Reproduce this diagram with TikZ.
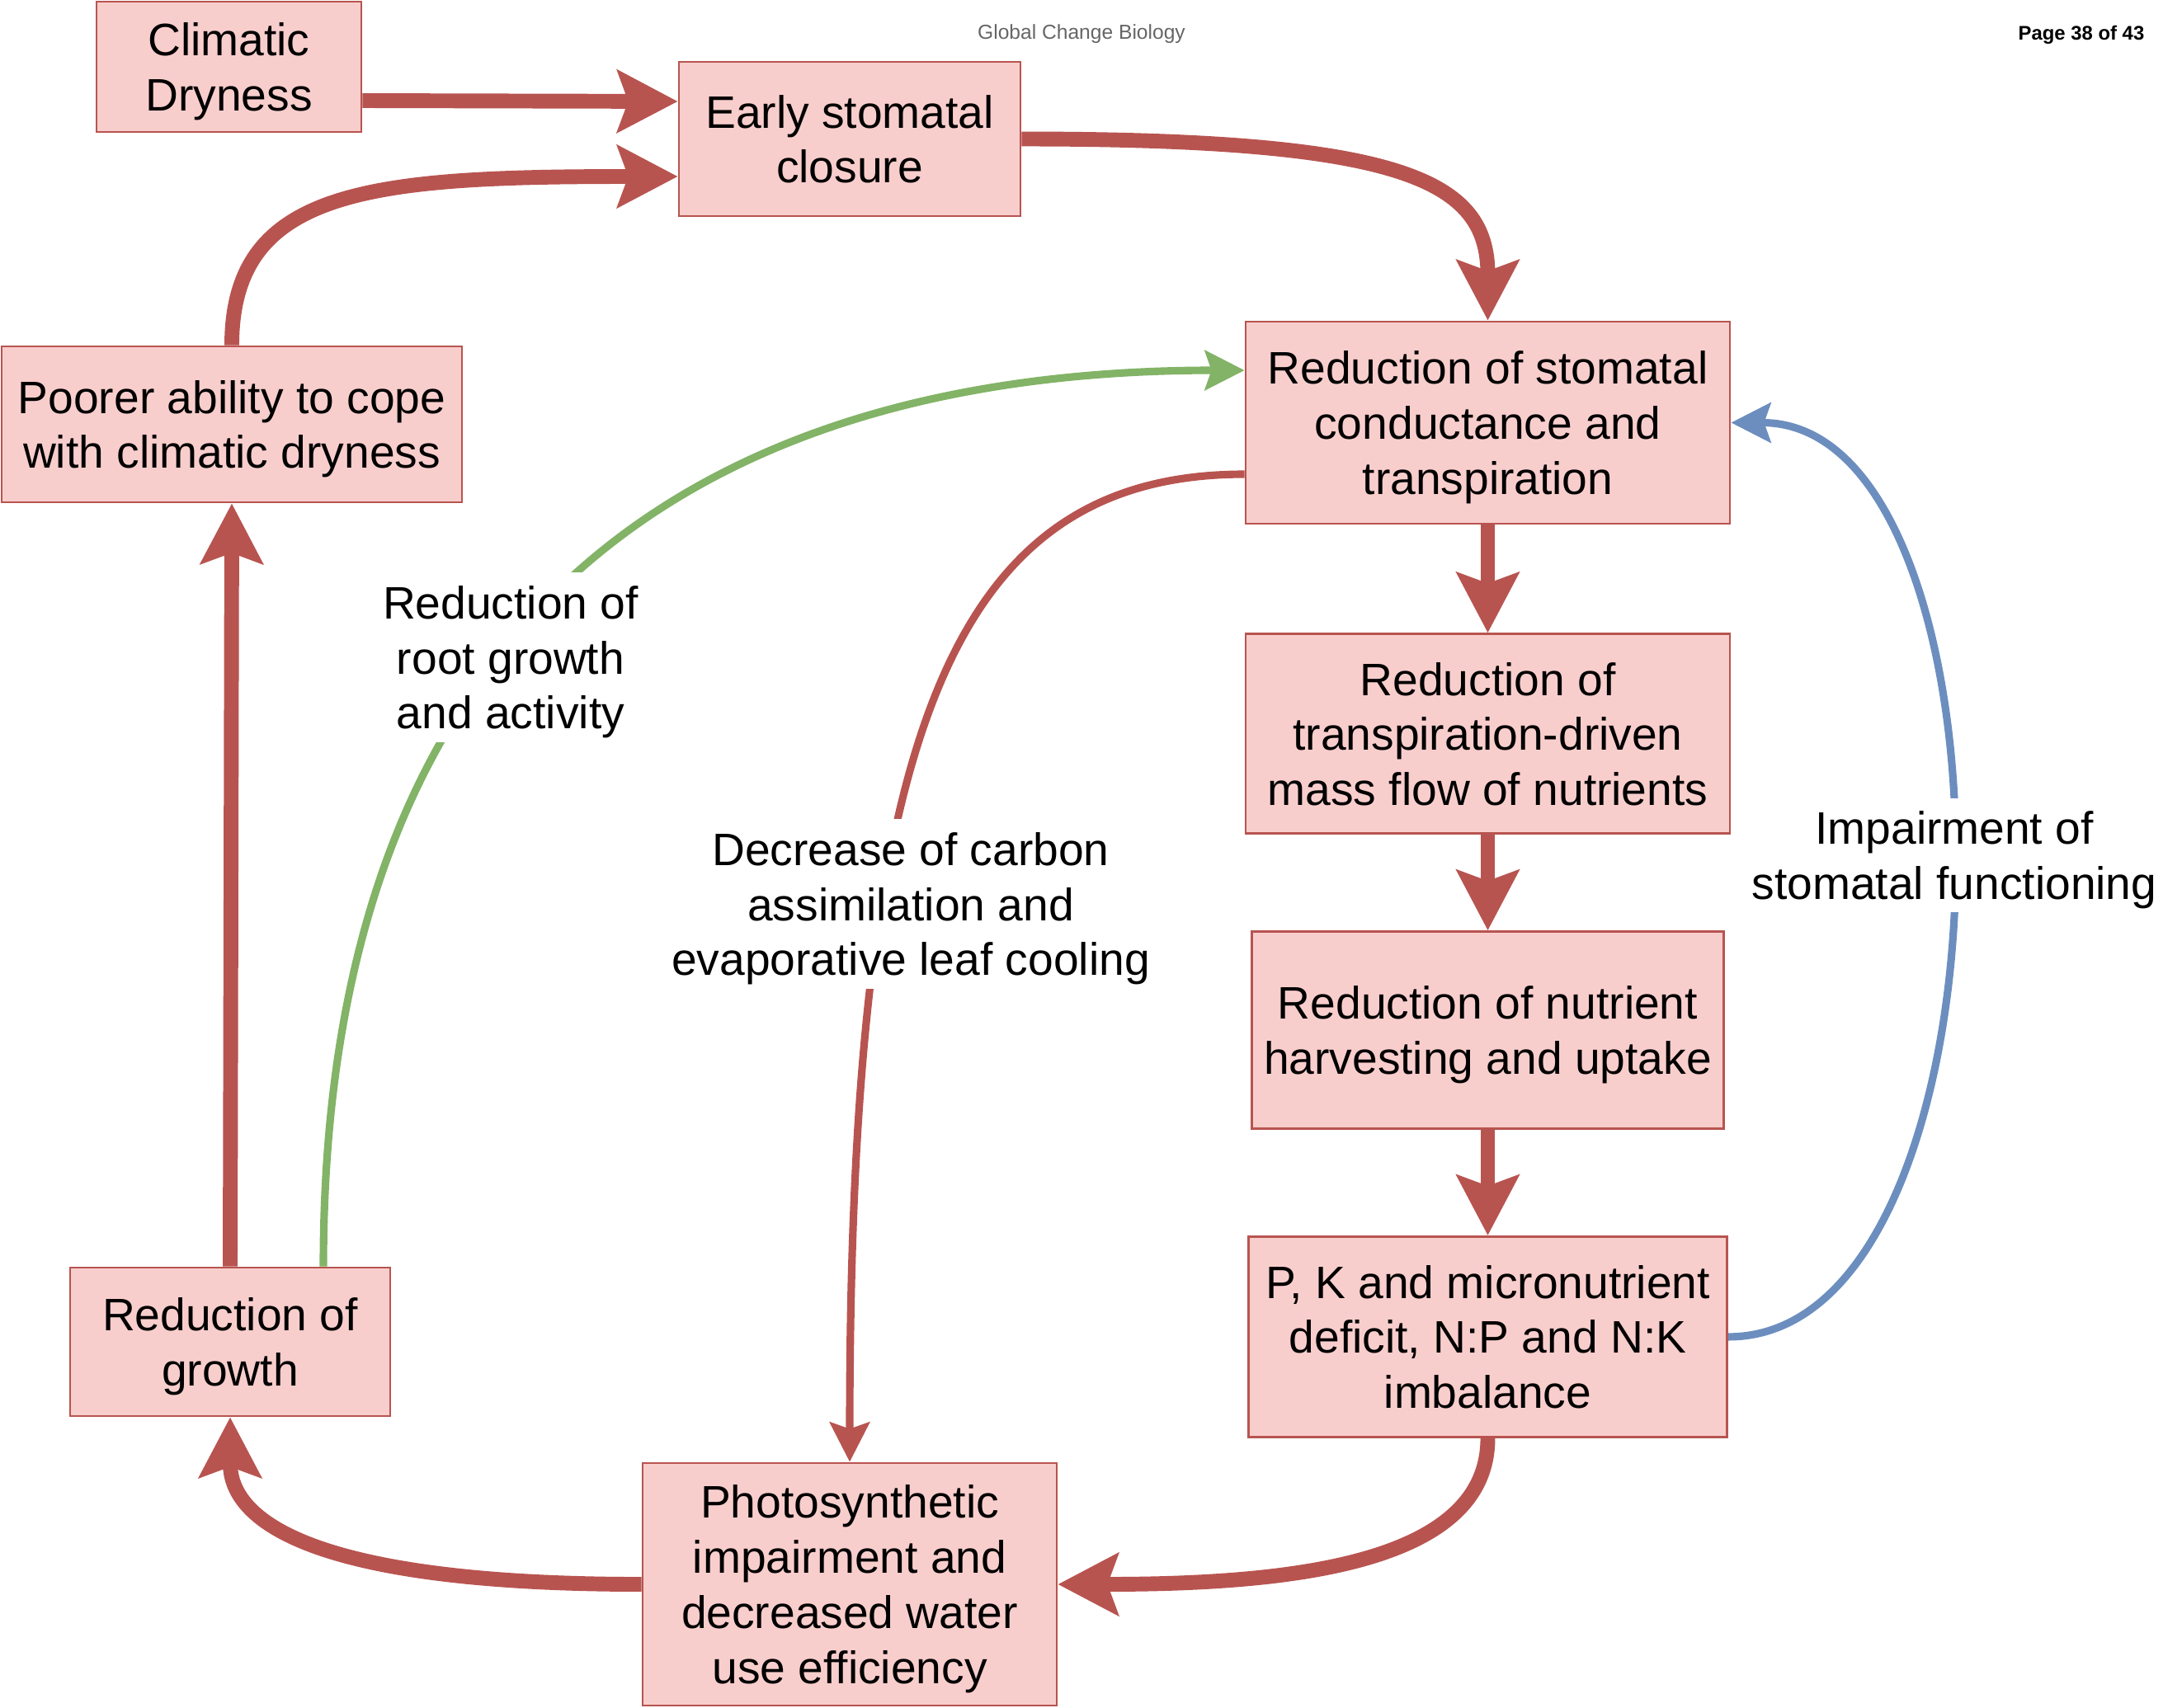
\documentclass[tikz,border=0pt]{standalone}
\usepackage{fontspec}
\setmainfont{Liberation Sans}
\usetikzlibrary{arrows.meta,positioning}
\definecolor{boxfill}{HTML}{F8CECC}
\definecolor{boxline}{HTML}{B85450}
\definecolor{rootgreen}{HTML}{82B366}
\definecolor{stomablue}{HTML}{6C8EBF}

\begin{document}
\begin{tikzpicture}[
    node distance=1.3cm and 1cm,
    box/.style={rectangle, draw=boxline, fill=boxfill, line width=0.8pt, text centered, align=center, inner sep=2pt, text depth=0pt, font=\fontsize{15.7}{19}\selectfont},
    edgetext/.style={fill=white, align=center, inner xsep=1pt, inner ysep=4.5pt, text depth=0pt, font=\fontsize{15.7}{19}\selectfont},
    bigarrow/.style={-{Stealth[length=7.3mm, width=7.5mm, inset=1.3mm]}, line width=5.1pt, draw=boxline},
    thinarrow/.style={-{Stealth[length=4.8mm, width=4.8mm, inset=0.8mm]}, line width=2.6pt}
]
\useasboundingbox (0,0) rectangle (26.22,-20.70);

% Header
\node (journal) at (13.11,-0.41) {\fontsize{7}{8}\selectfont\color{black!60}Global Change Biology};
\node (page) [anchor=east, inner sep=0pt] at (26.0,-0.42) {\fontsize{6.8}{8}\selectfont\bfseries Page 38 of 43};

% Nodes
\node (climatic) [box, minimum width=3.21cm, minimum height=1.58cm] at (2.775,-0.81) {Climatic\\Dryness};
\node (early) [box, minimum width=4.14cm, minimum height=1.87cm] at (10.30,-1.685) {Early stomatal\\closure};
\node (conduct) [box, minimum width=5.87cm, minimum height=2.45cm] at (18.035,-5.125) {Reduction of stomatal\\conductance and\\transpiration};
\node (massflow) [box, minimum width=5.87cm, minimum height=2.42cm, below=1.31cm of conduct] {Reduction of\\transpiration-driven\\mass flow of nutrients};
\node (harvest) [box, minimum width=5.72cm, minimum height=2.39cm, below=1.16cm of massflow] {Reduction of nutrient\\harvesting and uptake};
\node (deficit) [box, minimum width=5.80cm, minimum height=2.43cm, below=1.28cm of harvest] {P, K and micronutrient\\deficit, N:P and N:K\\imbalance};
\node (photo) [box, minimum width=5.02cm, minimum height=2.94cm] at (10.30,-19.21) {Photosynthetic\\impairment and\\decreased water\\use efficiency};
\node (growth) [box, minimum width=3.88cm, minimum height=1.80cm] at (2.79,-16.27) {Reduction of\\growth};
\node (poorer) [box, minimum width=5.58cm, minimum height=1.89cm] at (2.81,-5.145) {Poorer ability to cope\\with climatic dryness};

% Arrows
\draw [bigarrow] ([yshift=-4.1mm]climatic.east) -- ([yshift=4.55mm]early.west);
\draw [bigarrow] (poorer.north) .. controls +(0,1.90) and +(-3.73,0) .. ([yshift=-4.55mm]early.west);
\draw [bigarrow] (early.east) .. controls +(4.63,0) and +(0,1.70) .. (conduct.north);
\draw [bigarrow] (conduct) -- (massflow);
\draw [bigarrow] (massflow) -- (harvest);
\draw [bigarrow] (harvest) -- (deficit);
\draw [bigarrow] (deficit.south) .. controls +(0,-1.56) and +(2.69,0) .. (photo.east);
\draw [bigarrow] (photo.west) .. controls +(-3.79,0) and +(0,-1.33) .. (growth.south);
\draw [bigarrow] (growth.north) -- (poorer.south);
\draw [thinarrow, draw=rootgreen] ([xshift=1.13cm]growth.north) .. controls +(0,8.37) and +(-6.10,0) .. ([yshift=6.35mm]conduct.west);
\draw [thinarrow, draw=boxline] ([yshift=-6.25mm]conduct.west) .. controls +(-3.60,0) and +(0,8.74) .. (photo.north);
\draw [thinarrow, draw=stomablue] (deficit.east) .. controls +(3.59,0) and +(3.59,0) .. (conduct.east);

% Labels
\node (rootlabel) [edgetext] at (6.19,-7.97) {Reduction of\\root growth\\and activity};
\node (carbonlabel) [edgetext] at (11.04,-10.96) {Decrease of carbon\\assimilation and\\evaporative leaf cooling};
\node (impairlabel) [edgetext] at (23.69,-10.37) {Impairment of\\stomatal functioning};

\end{tikzpicture}
\end{document}
